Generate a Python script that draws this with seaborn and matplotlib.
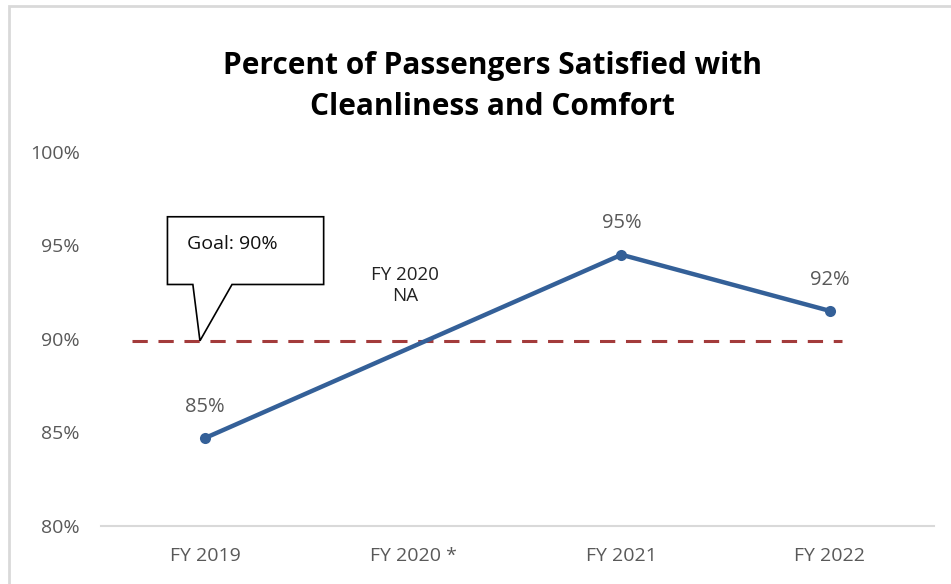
import matplotlib
matplotlib.use("Agg")
import pandas as pd
import matplotlib.pyplot as plt
import seaborn as sns
from matplotlib.patches import Polygon, Rectangle

# Chart data
categories = ["FY 2019", "FY 2020 *", "FY 2021", "FY 2022"]
measured_years = ["FY 2019", "FY 2021", "FY 2022"]
satisfied_pct = [84.7, 94.5, 91.5]
value_labels = ["85%", "95%", "92%"]
goal_pct = 89.9
y_ticks = [80, 85, 90, 95, 100]
y_tick_labels = ["80%", "85%", "90%", "95%", "100%"]

df = pd.DataFrame({"year": measured_years, "pct": satisfied_pct})
df["pos"] = [categories.index(y) for y in df["year"]]

sns.set_style("white")
plt.rcParams["font.family"] = ["Open Sans", "DejaVu Sans"]

fig = plt.figure(figsize=(9.51, 5.84), dpi=100)
ax = fig.add_axes([0.106, 0.0993, 0.876, 0.6407])

# goal line
ax.plot([-0.35, 3.06], [goal_pct, goal_pct], color="#A33B3B", lw=2.2,
        dashes=(5, 3.5), zorder=2)

sns.lineplot(data=df, x="pos", y="pct", ax=ax, color="#346098", lw=3.2,
             marker="o", markersize=8, markeredgewidth=0, zorder=3)

for x, y, lab in zip(df["pos"], df["pct"], value_labels):
    ax.annotate(lab, (x, y), xytext=(0, 22.5), textcoords="offset points",
                ha="center", va="center", fontsize=14.5, color="#595959")

ax.text(0.96, 92.85, "FY 2020\nNA", ha="center", va="center", fontsize=13.5,
        color="#222222", linespacing=1.25)

# callout box for goal
callout = Polygon([(-0.18, 96.53), (0.57, 96.53), (0.57, 92.91), (0.13, 92.91),
                   (-0.024, goal_pct), (-0.058, 92.91), (-0.18, 92.91)],
                  closed=True, facecolor="white", edgecolor="black", lw=1.2, zorder=4)
ax.add_patch(callout)
ax.text(-0.085, 95.1, "Goal: 90%", ha="left", va="center", fontsize=14,
        color="#111111", zorder=5)

ax.set_xlim(-0.5, 3.5)
ax.set_ylim(80, 100)
ax.set_xticks(range(len(categories)))
ax.set_xticklabels(categories, fontsize=14, color="#595959")
ax.set_yticks(y_ticks)
ax.set_yticklabels(y_tick_labels, fontsize=14, color="#595959")
ax.tick_params(axis="x", length=0, pad=15)
ax.tick_params(axis="y", length=0, pad=15)
ax.set_xlabel("")
ax.set_ylabel("")
sns.despine(ax=ax, left=True)
ax.spines["bottom"].set_color("#D9D9D9")
ax.spines["bottom"].set_linewidth(1.5)

fig.text(0.518, 0.852, "Percent of Passengers Satisfied with\nCleanliness and Comfort",
         ha="center", va="center", fontsize=21.5, fontweight="bold", color="black",
         linespacing=1.45)

# outer chart border
fig.patches.append(Rectangle((9 / 951, -0.1), 1.2, 1.1 - 6 / 584, transform=fig.transFigure,
                             fill=False, edgecolor="#D9D9D9", lw=2))

fig.savefig("out.png", dpi=100)
